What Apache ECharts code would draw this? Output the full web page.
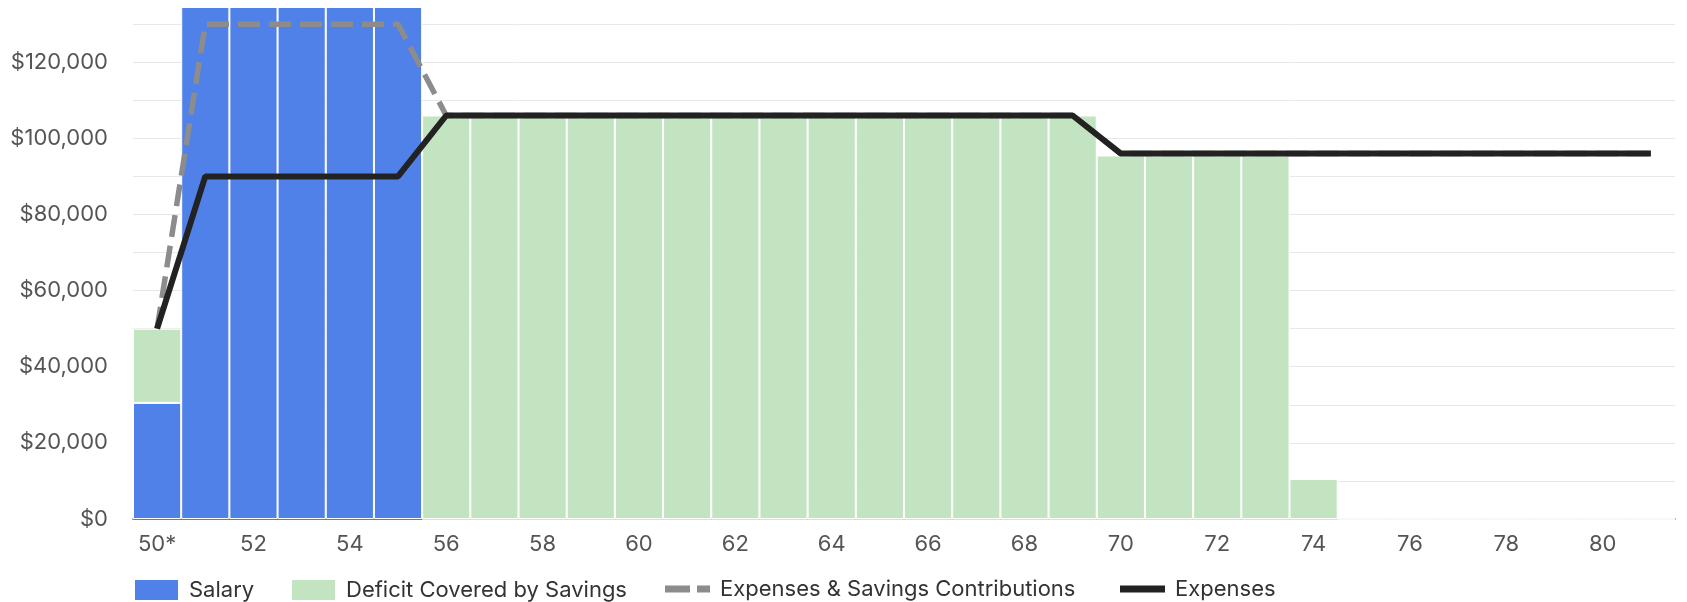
<!DOCTYPE html>
<html>
<head>
<meta charset="utf-8">
<script src="https://cdn.jsdelivr.net/npm/echarts@6/dist/echarts.min.js"></script>
<style>
  html, body { margin: 0; padding: 0; background: #fff; }
  #main { width: 1687px; height: 602px; }
</style>
</head>
<body>
<div id="main"></div>
<script>
var ages = ['50*','51','52','53','54','55','56','57','58','59','60','61','62','63','64','65',
            '66','67','68','69','70','71','72','73','74','75','76','77','78','79','80','81'];

var salary = [30500,134500,134500,134500,134500,134500,0,0,0,0,0,0,0,0,0,0,
              0,0,0,0,0,0,0,0,0,0,0,0,0,0,0,0];

var deficit = [19500,0,0,0,0,0,106000,106000,106000,106000,106000,106000,106000,106000,106000,106000,
               106000,106000,106000,106000,95500,95500,95500,95500,10500,0,0,0,0,0,0,0];

var expensesSavings = [50000,130000,130000,130000,130000,130000,106000,106000,106000,106000,106000,106000,106000,106000,106000,106000,
                       106000,106000,106000,106000,96000,96000,96000,96000,96000,96000,96000,96000,96000,96000,96000,96000];

var expenses = [50000,90000,90000,90000,90000,90000,106000,106000,106000,106000,106000,106000,106000,106000,106000,106000,
                106000,106000,106000,106000,96000,96000,96000,96000,96000,96000,96000,96000,96000,96000,96000,96000];

var seriesNames = ['Salary', 'Deficit Covered by Savings', 'Expenses & Savings Contributions', 'Expenses'];

var myChart = echarts.init(document.getElementById('main'));

var font = 'Inter, "Noto Sans", sans-serif';

// one legend per item so each sits where the original puts it
function legendItem(name, left, icon, h) {
  return {
    left: left,
    top: 578,
    padding: 0,
    itemWidth: 45,
    itemHeight: h,
    selectedMode: false,
    textStyle: { fontSize: 22, color: '#333', fontFamily: font, padding: [0, 0, 0, 5] },
    data: [{ name: name, icon: icon }]
  };
}

var option = {
  animation: false,
  textStyle: { fontFamily: font },
  grid: { left: 133, right: 12, top: 7, bottom: 83 },
  legend: [
    legendItem(seriesNames[0], 133, 'rect', 22),
    legendItem(seriesNames[1], 290, 'rect', 22),
    legendItem(seriesNames[2], 665, 'path://M0,0h25v7h-25z M32,0h13v7h-13z', 7),
    legendItem(seriesNames[3], 1120, 'rect', 7)
  ],
  xAxis: {
    type: 'category',
    data: ages,
    axisTick: { show: false },
    axisLine: { lineStyle: { color: '#555', width: 1.5 } },
    axisLabel: { interval: 1, fontSize: 22, color: '#555', margin: 14, fontFamily: font }
  },
  yAxis: {
    type: 'value',
    min: 0,
    max: 134500,
    interval: 10000,
    axisLine: { show: false },
    axisTick: { show: false },
    splitLine: { showMaxLine: false, lineStyle: { color: '#e8e8e8', width: 1 } },
    axisLabel: {
      fontSize: 22,
      color: '#555',
      margin: 25,
      fontFamily: font,
      formatter: function (v) {
        if (v % 20000 !== 0) return '';
        return '$' + v.toLocaleString('en-US');
      }
    }
  },
  series: [
    {
      name: seriesNames[0],
      type: 'bar',
      stack: 'total',
      data: salary,
      barCategoryGap: 0,
      itemStyle: { color: '#5081e9', borderColor: '#fff', borderWidth: 1 }
    },
    {
      name: seriesNames[1],
      type: 'bar',
      stack: 'total',
      data: deficit,
      barCategoryGap: 0,
      itemStyle: { color: '#c3e4c0', borderColor: '#fff', borderWidth: 1 }
    },
    {
      name: seriesNames[2],
      type: 'line',
      data: expensesSavings,
      symbol: 'none',
      lineStyle: { color: '#8c8c8c', width: 5.5, type: [22, 9] },
      itemStyle: { color: '#8c8c8c' },
      z: 3
    },
    {
      name: seriesNames[3],
      type: 'line',
      data: expenses,
      symbol: 'none',
      lineStyle: { color: '#222', width: 6 },
      itemStyle: { color: '#222' },
      z: 4
    }
  ]
};

myChart.setOption(option);
</script>
</body>
</html>
